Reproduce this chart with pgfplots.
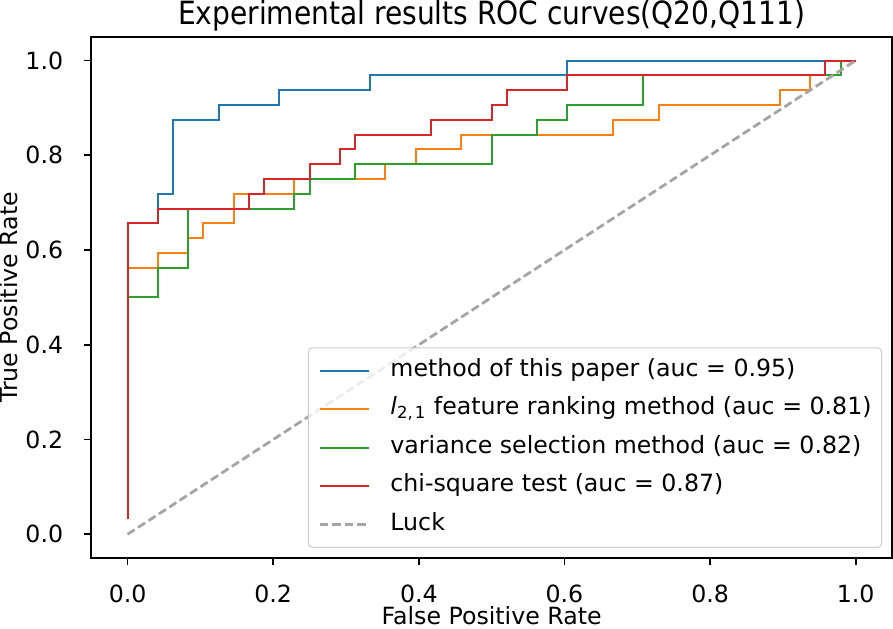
\documentclass[border=0pt]{standalone}
\usepackage{pgfplots}
\pgfplotsset{compat=1.18}
\usepackage{graphicx}
\usepackage{fontspec}
\setmainfont{DejaVu Sans}
\definecolor{cblue}{HTML}{1F77B4}
\definecolor{corange}{HTML}{FF7F0E}
\definecolor{cgreen}{HTML}{2CA02C}
\definecolor{cred}{HTML}{D62728}
\definecolor{cluck}{RGB}{165,165,165}
\newcommand{\fs}{\fontsize{11.8}{14}\selectfont}
\begin{document}
\begin{tikzpicture}
\begin{axis}[
  scale only axis, width=399.2pt, height=259.75pt,
  xmin=-0.05, xmax=1.05, ymin=-0.05, ymax=1.05,
  xtick={0,0.2,0.4,0.6,0.8,1}, ytick={0,0.2,0.4,0.6,0.8,1},
  tick pos=left, tick align=outside, major tick length=3.5pt,
  every tick/.style={black, line width=0.9pt},
  axis line style={line width=0.9pt},
  /pgf/number format/assume math mode=true,
  xticklabel style={font=\fs, inner sep=0pt, anchor=north, yshift=-9.85pt, /pgf/number format/.cd, fixed, fixed zerofill, precision=1},
  yticklabel style={font=\fs, inner sep=0pt, anchor=east, xshift=-10.3pt, /pgf/number format/.cd, fixed, fixed zerofill, precision=1},
  every axis title shift=0pt,
  title={\scalebox{1}[1.14]{Experimental results ROC curves(Q20,Q111)}},
  title style={at={(axis description cs:0.5,1.024)}, anchor=base, inner sep=0pt, font=\fontsize{14}{17}\selectfont},
  xlabel={False Positive Rate},
  xlabel style={at={(axis description cs:0.5,-0.1275)}, anchor=base, inner sep=0pt, text depth=2.2pt, font=\fs},
  ylabel={True Positive Rate},
  ylabel style={at={(axis description cs:-0.0914,0.5)}, anchor=base, inner sep=0pt, font=\fs},
  legend cell align=left,
  legend image code/.code={\draw[#1] (0pt,0pt) -- (24.5pt,0pt);},
  legend style={at={(axis description cs:0.9875,0.0192)}, anchor=south east,
    draw=black!20, fill=white, fill opacity=0.8, text opacity=1, rounded corners=2pt,
    line width=0.5pt, font=\fs, inner xsep=5pt, inner ysep=5.1pt,
    column sep=10pt, row sep=6.7pt,
    nodes={inner sep=0pt, text height=9pt, text depth=3.5pt}},
]
\addplot[cblue, line width=1pt] coordinates {
(0,0.03125) (0,0.65625) (0.041667,0.65625) (0.041667,0.71875) (0.0625,0.71875) (0.0625,0.875)
(0.125,0.875) (0.125,0.90625) (0.208333,0.90625) (0.208333,0.9375) (0.333333,0.9375)
(0.333333,0.96875) (0.604167,0.96875) (0.604167,1) (1,1)};
\addlegendentry{method of this paper (auc = 0.95)}
\addplot[corange, line width=1pt] coordinates {
(0,0.5625) (0.041667,0.5625) (0.041667,0.59375) (0.083333,0.59375) (0.083333,0.625)
(0.104167,0.625) (0.104167,0.65625) (0.145833,0.65625) (0.145833,0.71875) (0.229167,0.71875)
(0.229167,0.75) (0.354167,0.75) (0.354167,0.78125) (0.395833,0.78125) (0.395833,0.8125)
(0.458333,0.8125) (0.458333,0.84375) (0.666667,0.84375) (0.666667,0.875) (0.729167,0.875)
(0.729167,0.90625) (0.895833,0.90625) (0.895833,0.9375) (0.9375,0.9375) (0.9375,0.96875)
(0.979167,0.96875) (0.979167,1) (1,1)};
\addlegendentry{\textit{l}\textsubscript{2,\kern1pt 1} feature ranking method (auc = 0.81)}
\addplot[cgreen, line width=1pt] coordinates {
(0,0.5) (0.041667,0.5) (0.041667,0.5625) (0.083333,0.5625) (0.083333,0.6875) (0.229167,0.6875)
(0.229167,0.71875) (0.25,0.71875) (0.25,0.75) (0.3125,0.75) (0.3125,0.78125) (0.5,0.78125)
(0.5,0.84375) (0.5625,0.84375) (0.5625,0.875) (0.604167,0.875) (0.604167,0.90625)
(0.708333,0.90625) (0.708333,0.96875) (0.979167,0.96875) (0.979167,1) (1,1)};
\addlegendentry{variance selection method (auc = 0.82)}
\addplot[cred, line width=1pt] coordinates {
(0,0.03125) (0,0.65625) (0.041667,0.65625) (0.041667,0.6875) (0.166667,0.6875) (0.166667,0.71875)
(0.1875,0.71875) (0.1875,0.75) (0.25,0.75) (0.25,0.78125) (0.291667,0.78125) (0.291667,0.8125)
(0.3125,0.8125) (0.3125,0.84375) (0.416667,0.84375) (0.416667,0.875) (0.5,0.875) (0.5,0.90625)
(0.520833,0.90625) (0.520833,0.9375) (0.604167,0.9375) (0.604167,0.96875) (0.958333,0.96875)
(0.958333,1) (1,1)};
\addlegendentry{chi-square test (auc = 0.87)}
\addplot[cluck, line width=1.4pt, dash pattern=on 4.2pt off 2pt] coordinates {(0,0) (1,1)};
\addlegendentry{Luck}
\end{axis}
\end{tikzpicture}
\end{document}
